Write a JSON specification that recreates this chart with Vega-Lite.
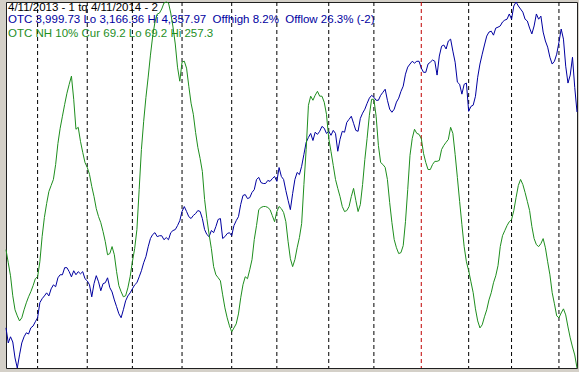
{
  "$schema": "https://vega.github.io/schema/vega-lite/v6.json",
  "width": 571,
  "height": 366,
  "autosize": {"type": "none"},
  "padding": {"left": 6, "top": 2, "right": 2, "bottom": 4},
  "background": "#d4d0c8",
  "config": {
    "view": {"fill": "#ffffff", "stroke": "#202020", "strokeWidth": 1},
    "text": {"font": "Liberation Sans", "fontSize": 11.5, "align": "left", "baseline": "middle"}
  },
  "datasets": {
    "months": [
      {"d": 14, "kind": "month"}, {"d": 36, "kind": "month"}, {"d": 56, "kind": "month"},
      {"d": 78, "kind": "month"}, {"d": 100, "kind": "month"}, {"d": 120, "kind": "month"},
      {"d": 143, "kind": "month"}, {"d": 163, "kind": "month"}, {"d": 184, "kind": "year"},
      {"d": 205, "kind": "month"}, {"d": 224, "kind": "month"}, {"d": 245, "kind": "month"}
    ],
    "series": [
      {"d":0,"otc":3297,"nh":130.0},{"d":1,"otc":3248,"nh":123.3},{"d":2,"otc":3268,"nh":116.6},{"d":3,"otc":3251,"nh":106.3},
      {"d":4,"otc":3199,"nh":99.1},{"d":5,"otc":3166.36,"nh":96.0},{"d":6,"otc":3209,"nh":93.4},{"d":7,"otc":3248,"nh":95.0},
      {"d":8,"otc":3268,"nh":99.1},{"d":9,"otc":3281,"nh":102.7},{"d":10,"otc":3277,"nh":105.8},{"d":11,"otc":3297,"nh":108.4},
      {"d":12,"otc":3303,"nh":111.5},{"d":13,"otc":3317,"nh":115.1},{"d":14,"otc":3330,"nh":116.1},{"d":15,"otc":3379,"nh":123.8},
      {"d":16,"otc":3392,"nh":136.7},{"d":17,"otc":3401,"nh":146.5},{"d":18,"otc":3411,"nh":153.7},{"d":19,"otc":3401,"nh":159.9},
      {"d":20,"otc":3424,"nh":163.0},{"d":21,"otc":3437,"nh":166.1},{"d":22,"otc":3431,"nh":173.8},{"d":23,"otc":3460,"nh":184.6},
      {"d":24,"otc":3470,"nh":192.4},{"d":25,"otc":3470,"nh":198.6},{"d":26,"otc":3493,"nh":204.7},{"d":27,"otc":3493,"nh":210.4},
      {"d":28,"otc":3480,"nh":215.0},{"d":29,"otc":3463,"nh":219.2},{"d":30,"otc":3483,"nh":207.3},{"d":31,"otc":3470,"nh":191.9},
      {"d":32,"otc":3480,"nh":192.9},{"d":33,"otc":3473,"nh":185.7},{"d":34,"otc":3480,"nh":180.0},{"d":35,"otc":3457,"nh":174.8},
      {"d":36,"otc":3450,"nh":172.3},{"d":37,"otc":3437,"nh":168.7},{"d":38,"otc":3398,"nh":162.5},{"d":39,"otc":3441,"nh":157.3},
      {"d":40,"otc":3467,"nh":151.1},{"d":41,"otc":3447,"nh":147.0},{"d":42,"otc":3418,"nh":143.9},{"d":43,"otc":3441,"nh":139.3},
      {"d":44,"otc":3444,"nh":134.1},{"d":45,"otc":3460,"nh":127.4},{"d":46,"otc":3428,"nh":128.0},{"d":47,"otc":3414,"nh":131.6},
      {"d":48,"otc":3388,"nh":127.4},{"d":49,"otc":3366,"nh":118.7},{"d":50,"otc":3343,"nh":111.5},{"d":51,"otc":3330,"nh":108.4},
      {"d":52,"otc":3356,"nh":105.8},{"d":53,"otc":3385,"nh":106.3},{"d":54,"otc":3401,"nh":110.4},{"d":55,"otc":3411,"nh":116.1},
      {"d":56,"otc":3424,"nh":123.8},{"d":57,"otc":3437,"nh":130.5},{"d":58,"otc":3444,"nh":140.3},{"d":59,"otc":3463,"nh":160.9},
      {"d":60,"otc":3483,"nh":181.5},{"d":61,"otc":3509,"nh":196.0},{"d":62,"otc":3529,"nh":208.3},{"d":63,"otc":3561,"nh":218.7},
      {"d":64,"otc":3588,"nh":230.0},{"d":65,"otc":3601,"nh":239.8},{"d":66,"otc":3607,"nh":247.0},{"d":67,"otc":3594,"nh":251.1},
      {"d":68,"otc":3597,"nh":251.6},{"d":69,"otc":3597,"nh":253.7},{"d":70,"otc":3584,"nh":256.8},{"d":71,"otc":3591,"nh":257.3},
      {"d":72,"otc":3584,"nh":256.8},{"d":73,"otc":3607,"nh":251.6},{"d":74,"otc":3614,"nh":244.4},{"d":75,"otc":3617,"nh":235.7},
      {"d":76,"otc":3630,"nh":223.8},{"d":77,"otc":3646,"nh":216.6},{"d":78,"otc":3676,"nh":226.4},{"d":79,"otc":3692,"nh":226.9},
      {"d":80,"otc":3676,"nh":223.3},{"d":81,"otc":3659,"nh":214.0},{"d":82,"otc":3653,"nh":205.3},{"d":83,"otc":3663,"nh":199.6},
      {"d":84,"otc":3669,"nh":190.3},{"d":85,"otc":3679,"nh":182.6},{"d":86,"otc":3676,"nh":176.9},{"d":87,"otc":3653,"nh":170.2},
      {"d":88,"otc":3617,"nh":155.8},{"d":89,"otc":3601,"nh":146.0},{"d":90,"otc":3594,"nh":137.8},{"d":91,"otc":3614,"nh":130.5},
      {"d":92,"otc":3607,"nh":121.3},{"d":93,"otc":3627,"nh":117.1},{"d":94,"otc":3650,"nh":115.6},{"d":95,"otc":3653,"nh":114.0},
      {"d":96,"otc":3588,"nh":106.8},{"d":97,"otc":3594,"nh":100.1},{"d":98,"otc":3604,"nh":95.0},{"d":99,"otc":3607,"nh":90.9},
      {"d":100,"otc":3597,"nh":87.8},{"d":101,"otc":3630,"nh":89.8},{"d":102,"otc":3646,"nh":91.9},{"d":103,"otc":3659,"nh":97.0},
      {"d":104,"otc":3699,"nh":105.3},{"d":105,"otc":3728,"nh":112.0},{"d":106,"otc":3731,"nh":116.1},{"d":107,"otc":3718,"nh":115.1},
      {"d":108,"otc":3721,"nh":119.7},{"d":109,"otc":3738,"nh":124.9},{"d":110,"otc":3747,"nh":135.2},{"d":111,"otc":3780,"nh":142.4},
      {"d":112,"otc":3787,"nh":150.6},{"d":113,"otc":3770,"nh":151.7},{"d":114,"otc":3767,"nh":152.2},{"d":115,"otc":3767,"nh":152.2},
      {"d":116,"otc":3777,"nh":151.7},{"d":117,"otc":3774,"nh":150.6},{"d":118,"otc":3783,"nh":147.5},{"d":119,"otc":3790,"nh":144.4},
      {"d":120,"otc":3774,"nh":149.6},{"d":121,"otc":3819,"nh":152.2},{"d":122,"otc":3790,"nh":151.1},{"d":123,"otc":3780,"nh":149.1},
      {"d":124,"otc":3744,"nh":144.4},{"d":125,"otc":3712,"nh":134.1},{"d":126,"otc":3682,"nh":125.4},{"d":127,"otc":3734,"nh":121.3},
      {"d":128,"otc":3780,"nh":124.9},{"d":129,"otc":3803,"nh":131.0},{"d":130,"otc":3796,"nh":136.2},{"d":131,"otc":3823,"nh":143.4},
      {"d":132,"otc":3862,"nh":163.5},{"d":133,"otc":3901,"nh":181.5},{"d":134,"otc":3917,"nh":204.2},{"d":135,"otc":3930,"nh":208.9},
      {"d":136,"otc":3907,"nh":206.8},{"d":137,"otc":3934,"nh":209.4},{"d":138,"otc":3927,"nh":211.4},{"d":139,"otc":3937,"nh":208.9},
      {"d":140,"otc":3953,"nh":208.9},{"d":141,"otc":3947,"nh":205.8},{"d":142,"otc":3930,"nh":199.6},{"d":143,"otc":3937,"nh":187.2},
      {"d":144,"otc":3924,"nh":180.5},{"d":145,"otc":3940,"nh":173.3},{"d":146,"otc":3930,"nh":166.1},{"d":147,"otc":3872,"nh":161.5},
      {"d":148,"otc":3911,"nh":157.3},{"d":149,"otc":3937,"nh":152.2},{"d":150,"otc":3934,"nh":149.6},{"d":151,"otc":3966,"nh":150.1},
      {"d":152,"otc":3976,"nh":152.2},{"d":153,"otc":3986,"nh":157.3},{"d":154,"otc":3963,"nh":161.5},{"d":155,"otc":3940,"nh":155.3},
      {"d":156,"otc":3937,"nh":149.6},{"d":157,"otc":3979,"nh":153.2},{"d":158,"otc":3996,"nh":163.5},{"d":159,"otc":4009,"nh":176.4},
      {"d":160,"otc":4028,"nh":187.2},{"d":161,"otc":4045,"nh":199.1},{"d":162,"otc":4054,"nh":207.3},{"d":163,"otc":4048,"nh":207.3},
      {"d":164,"otc":4038,"nh":198.6},{"d":165,"otc":4038,"nh":183.6},{"d":166,"otc":4054,"nh":174.8},{"d":167,"otc":4064,"nh":173.8},
      {"d":168,"otc":4074,"nh":172.3},{"d":169,"otc":4038,"nh":166.1},{"d":170,"otc":4009,"nh":154.2},{"d":171,"otc":3999,"nh":143.9},
      {"d":172,"otc":4009,"nh":135.2},{"d":173,"otc":4032,"nh":131.0},{"d":174,"otc":4045,"nh":128.0},{"d":175,"otc":4067,"nh":128.5},
      {"d":176,"otc":4084,"nh":132.1},{"d":177,"otc":4123,"nh":144.4},{"d":178,"otc":4146,"nh":160.9},{"d":179,"otc":4156,"nh":178.5},
      {"d":180,"otc":4165,"nh":187.2},{"d":181,"otc":4159,"nh":191.9},{"d":182,"otc":4165,"nh":189.8},{"d":183,"otc":4165,"nh":189.3},
      {"d":184,"otc":4143,"nh":187.2},{"d":185,"otc":4129,"nh":179.5},{"d":186,"otc":4129,"nh":174.8},{"d":187,"otc":4156,"nh":171.2},
      {"d":188,"otc":4162,"nh":171.2},{"d":189,"otc":4169,"nh":173.8},{"d":190,"otc":4165,"nh":175.4},{"d":191,"otc":4120,"nh":175.4},
      {"d":192,"otc":4182,"nh":175.9},{"d":193,"otc":4214,"nh":181.5},{"d":194,"otc":4218,"nh":183.6},{"d":195,"otc":4205,"nh":185.2},
      {"d":196,"otc":4231,"nh":186.7},{"d":197,"otc":4237,"nh":192.9},{"d":198,"otc":4198,"nh":189.8},{"d":199,"otc":4162,"nh":179.0},
      {"d":200,"otc":4097,"nh":167.1},{"d":201,"otc":4090,"nh":154.8},{"d":202,"otc":4058,"nh":142.9},{"d":203,"otc":4090,"nh":131.6},
      {"d":204,"otc":4094,"nh":123.8},{"d":205,"otc":4002,"nh":119.2},{"d":206,"otc":4018,"nh":113.5},{"d":207,"otc":4022,"nh":107.9},
      {"d":208,"otc":4051,"nh":99.6},{"d":209,"otc":4113,"nh":93.4},{"d":210,"otc":4156,"nh":89.8},{"d":211,"otc":4188,"nh":91.4},
      {"d":212,"otc":4218,"nh":95.5},{"d":213,"otc":4247,"nh":99.1},{"d":214,"otc":4260,"nh":104.2},{"d":215,"otc":4263,"nh":107.9},
      {"d":216,"otc":4250,"nh":113.0},{"d":217,"otc":4273,"nh":116.6},{"d":218,"otc":4276,"nh":121.8},{"d":219,"otc":4280,"nh":131.6},
      {"d":220,"otc":4293,"nh":137.2},{"d":221,"otc":4299,"nh":139.8},{"d":222,"otc":4302,"nh":142.4},{"d":223,"otc":4319,"nh":144.4},
      {"d":224,"otc":4302,"nh":145.5},{"d":225,"otc":4345,"nh":150.1},{"d":226,"otc":4357.97,"nh":156.8},{"d":227,"otc":4345,"nh":163.0},
      {"d":228,"otc":4335,"nh":166.1},{"d":229,"otc":4325,"nh":163.5},{"d":230,"otc":4302,"nh":159.4},{"d":231,"otc":4296,"nh":154.8},
      {"d":232,"otc":4273,"nh":150.1},{"d":233,"otc":4254,"nh":141.9},{"d":234,"otc":4280,"nh":135.7},{"d":235,"otc":4319,"nh":132.6},
      {"d":236,"otc":4302,"nh":131.6},{"d":237,"otc":4312,"nh":133.1},{"d":238,"otc":4260,"nh":135.7},{"d":239,"otc":4231,"nh":131.0},
      {"d":240,"otc":4211,"nh":123.8},{"d":241,"otc":4178,"nh":117.1},{"d":242,"otc":4156,"nh":107.9},{"d":243,"otc":4165,"nh":102.2},
      {"d":244,"otc":4188,"nh":96.0},{"d":245,"otc":4227,"nh":95.0},{"d":246,"otc":4270,"nh":97.5},{"d":247,"otc":4237,"nh":99.6},
      {"d":248,"otc":4149,"nh":96.5},{"d":249,"otc":4094,"nh":90.3},{"d":250,"otc":4120,"nh":84.7},{"d":251,"otc":4178,"nh":80.0},
      {"d":252,"otc":4080,"nh":75.9},{"d":253,"otc":3999.73,"nh":69.2}
    ]
  },
  "layer": [
    {
      "data": {"name": "months"},
      "mark": {"type": "rule", "strokeDash": [4, 3], "strokeWidth": 1},
      "encoding": {
        "x": {"field": "d", "type": "quantitative", "scale": {"domain": [0, 253], "nice": false, "zero": false}, "axis": null},
        "color": {"field": "kind", "type": "nominal", "scale": {"domain": ["month", "year"], "range": ["#000000", "#c00000"]}, "legend": null}
      }
    },
    {
      "layer": [
        {
          "data": {"name": "series"},
          "mark": {"type": "line", "color": "#0000a0", "strokeWidth": 1},
          "encoding": {
            "x": {"field": "d", "type": "quantitative"},
            "y": {"field": "otc", "type": "quantitative", "scale": {"domain": [3166.36, 4357.97], "nice": false, "zero": false}, "axis": null}
          }
        },
        {
          "data": {"values": [{"label": "OTC 3,999.73 Lo 3,166.36 Hi 4,357.97\u00a0 Offhigh 8.2%\u00a0 Offlow 26.3% (-2)"}]},
          "mark": {"type": "text", "color": "#0000a0"},
          "encoding": {
            "x": {"datum": 0.9, "type": "quantitative"},
            "y": {"datum": 4299, "type": "quantitative"},
            "text": {"field": "label"}
          }
        }
      ]
    },
    {
      "layer": [
        {
          "data": {"name": "series"},
          "mark": {"type": "line", "color": "#1e8e1e", "strokeWidth": 1},
          "encoding": {
            "x": {"field": "d", "type": "quantitative"},
            "y": {"field": "nh", "type": "quantitative", "scale": {"domain": [69.2, 257.3], "nice": false, "zero": false}, "axis": null}
          }
        },
        {
          "data": {"values": [{"label": "4/11/2013 - 1 tq 4/11/2014 - 2"}]},
          "mark": {"type": "text", "color": "#000000"},
          "encoding": {
            "x": {"datum": 0.9, "type": "quantitative"},
            "y": {"datum": 254.2, "type": "quantitative"},
            "text": {"field": "label"}
          }
        },
        {
          "data": {"values": [{"label": "OTC NH 10% Cur 69.2 Lo 69.2 Hi 257.3"}]},
          "mark": {"type": "text", "color": "#1e8e1e"},
          "encoding": {
            "x": {"datum": 0.9, "type": "quantitative"},
            "y": {"datum": 241.0, "type": "quantitative"},
            "text": {"field": "label"}
          }
        }
      ]
    }
  ],
  "resolve": {"scale": {"y": "independent", "color": "independent"}}
}
